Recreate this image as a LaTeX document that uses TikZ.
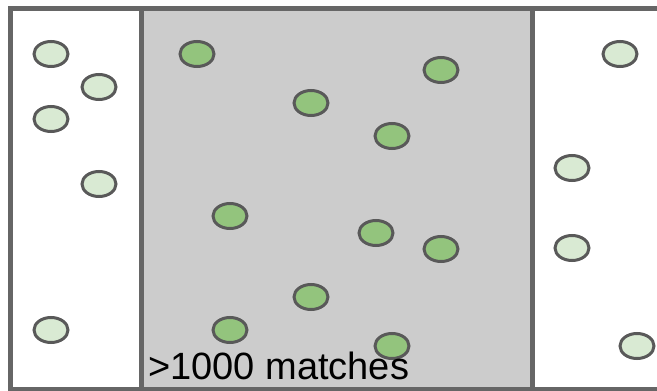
\documentclass[tikz,border=0pt]{standalone}
\usepackage{fontspec}
\setmainfont{Liberation Sans}
\definecolor{frame}{HTML}{666666}
\definecolor{zone}{HTML}{CCCCCC}
\definecolor{lightg}{HTML}{D9EAD3}
\definecolor{darkg}{HTML}{93C47D}
\definecolor{ring}{HTML}{595959}
\tikzset{
  dot/.style={ellipse, draw=ring, line width=3pt, minimum width=34pt, minimum height=25pt, inner sep=0pt},
  lite/.style={dot, fill=lightg},
  dark/.style={dot, fill=darkg},
  border/.style={draw=frame, line width=5pt}
}
\usetikzlibrary{shapes.geometric}
\begin{document}
\begin{tikzpicture}[x=1pt,y=-1pt]
\useasboundingbox (0,0) rectangle (657,391);
\clip (0,0) rectangle (657,391);
\fill[white] (0,0) rectangle (657,391);
\fill[zone] (141,8) rectangle (532,389);
\draw[border] (10,8) rectangle (670,389);
\draw[border] (141,8) -- (141,389);
\draw[border] (532,8) -- (532,389);
% left
\node[lite] (l1) at (51,54) {};
\node[lite] (l2) at (99,87) {};
\node[lite] (l3) at (51,119) {};
\node[lite] (l4) at (99,184) {};
\node[lite] (l5) at (51,330) {};
% right
\node[lite] (r1) at (620,54) {};
\node[lite] (r2) at (572,168) {};
\node[lite] (r3) at (572,248) {};
\node[lite] (r4) at (637,346) {};
% middle
\node[dark] (m1) at (197,54) {};
\node[dark] (m2) at (441,70) {};
\node[dark] (m3) at (311,103) {};
\node[dark] (m4) at (392,136) {};
\node[dark] (m5) at (230,216) {};
\node[dark] (m6) at (376,233) {};
\node[dark] (m7) at (441,249) {};
\node[dark] (m8) at (311,297) {};
\node[dark] (m9) at (230,330) {};
\node[dark] (m10) at (392,346) {};
\node[anchor=base west, inner sep=0pt, font=\fontsize{38}{42}\selectfont] (lbl) at (148,379) {>1000 matches};
\end{tikzpicture}
\end{document}
